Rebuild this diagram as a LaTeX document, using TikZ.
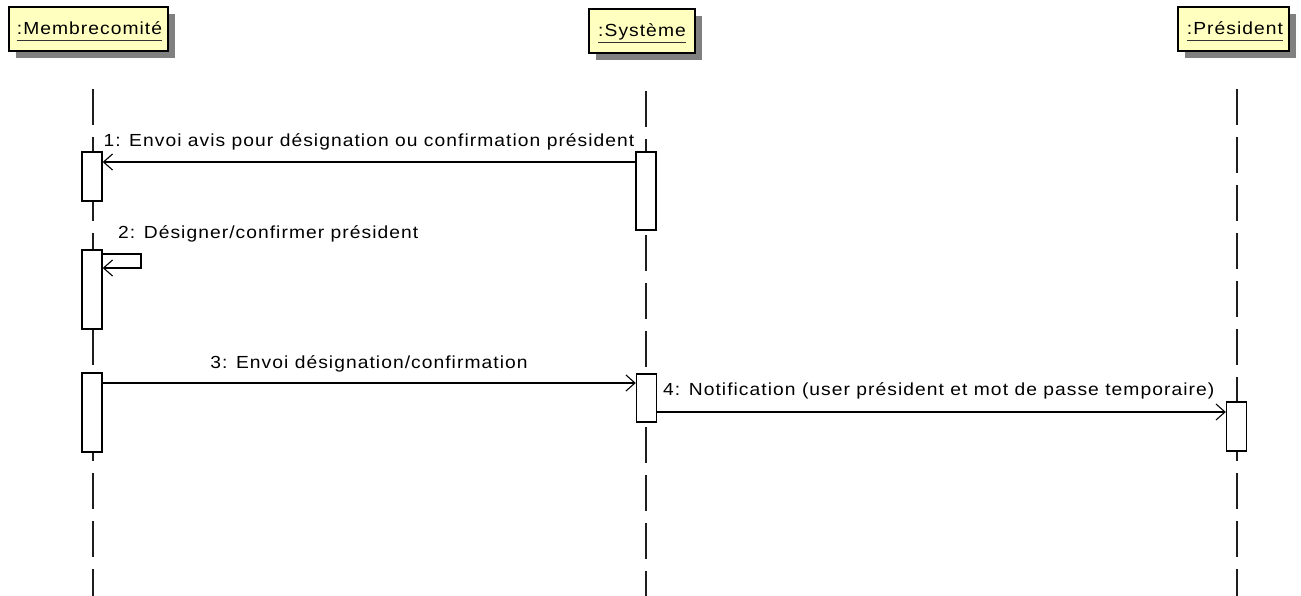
\documentclass[tikz,border=0pt]{standalone}
\usepackage{fontspec}
\setmainfont{Liberation Sans}[FakeStretch=1.1,LetterSpace=6]
\usetikzlibrary{arrows.meta,shadows}
\definecolor{headfill}{RGB}{255,255,192}
\definecolor{shadowc}{RGB}{128,128,128}
\definecolor{lifec}{RGB}{30,30,30}
\begin{document}
\begin{tikzpicture}[x=1pt,y=-1pt,
  head/.style={draw=black,line width=1.5pt,fill=headfill,inner sep=0pt,
    general shadow={fill=shadowc,shadow xshift=7pt,shadow yshift=-7pt}},
  htext/.style={inner sep=0pt,anchor=base,font=\fontsize{17.5}{20}\selectfont},
  ul/.style={line width=1.3pt,draw=black!80},
  life/.style={draw=lifec,line width=1.5pt,dash pattern=on 36pt off 12pt},
  act/.style={draw=black,line width=1.4pt,fill=white,inner sep=0pt,minimum width=20pt},
  msg/.style={draw=black,line width=1.2pt,-{Straight Barb[length=9pt,width=16pt,line width=1.1pt]}},
  lbl/.style={inner sep=0pt,anchor=base,font=\fontsize{17.5}{20}\selectfont}]
\useasboundingbox (0,0) rectangle (1301,596);
\fill[white] (0,0) rectangle (1301,596);

% headers
\node[head,minimum width=159pt,minimum height=44pt] (hm) at (88.5,29) {};
\node[head,minimum width=106pt,minimum height=44pt] (hs) at (642,31) {};
\node[head,minimum width=111pt,minimum height=44pt] (hp) at (1233.5,29) {};
\node[htext] (tm) at (89.5,34.5) {:Membrecomité};
\node[htext] (ts) at (642,36.5) {:Système};
\node[htext] (tp) at (1235,34.5) {:Président};
\draw[ul] ([yshift=-6pt]tm.base west) -- ([yshift=-6pt]tm.base east);
\draw[ul] ([yshift=-6pt]ts.base west) -- ([yshift=-6pt]ts.base east);
\draw[ul] ([yshift=-6pt]tp.base west) -- ([yshift=-6pt]tp.base east);

% lifelines
\coordinate (lm) at (93,89);
\coordinate (ls) at (646,91);
\coordinate (lp) at (1237,89);
\draw[life] (lm) -- (lm |- 0,596);
\draw[life] (ls) -- (ls |- 0,596);
\draw[life] (lp) -- (lp |- 0,596);

% activations
\node[act,minimum height=49pt] (a1) at (92,176.5) {};
\node[act,minimum height=79pt] (a2) at (92,289.5) {};
\node[act,minimum height=79pt] (a3) at (92,412.5) {};
\node[act,minimum height=78pt] (b1) at (646,191) {};
\node[act,minimum height=48pt] (b2) at (646.5,398) {};
\node[act,minimum height=49pt] (c1) at (1236.5,426.5) {};

% message levels
\coordinate (y1) at (0,162);
\coordinate (y2a) at (0,254);
\coordinate (y2b) at (0,268);
\coordinate (y3) at (0,383);
\coordinate (y4) at (0,412);
\coordinate (r2) at (141,0);

% messages
\draw[msg] (b1.west |- y1) -- (a1.east |- y1);
\draw[msg] (a2.east |- y2a) -- (r2 |- y2a) -- (r2 |- y2b) -- (a2.east |- y2b);
\draw[msg] (a3.east |- y3) -- (b2.west |- y3);
\draw[msg] (b2.east |- y4) -- (c1.west |- y4);

% labels
\node[lbl] (l1) at (369,147) {1: Envoi avis pour désignation ou confirmation président};
\node[lbl,anchor=base west] (l2) at (118,239) {2: Désigner/confirmer président};
\node[lbl] (l3) at (369,368) {3: Envoi désignation/confirmation};
\node[lbl,anchor=base west] (l4) at (663,395) {4: Notification (user président et mot de passe temporaire)};
\end{tikzpicture}
\end{document}
